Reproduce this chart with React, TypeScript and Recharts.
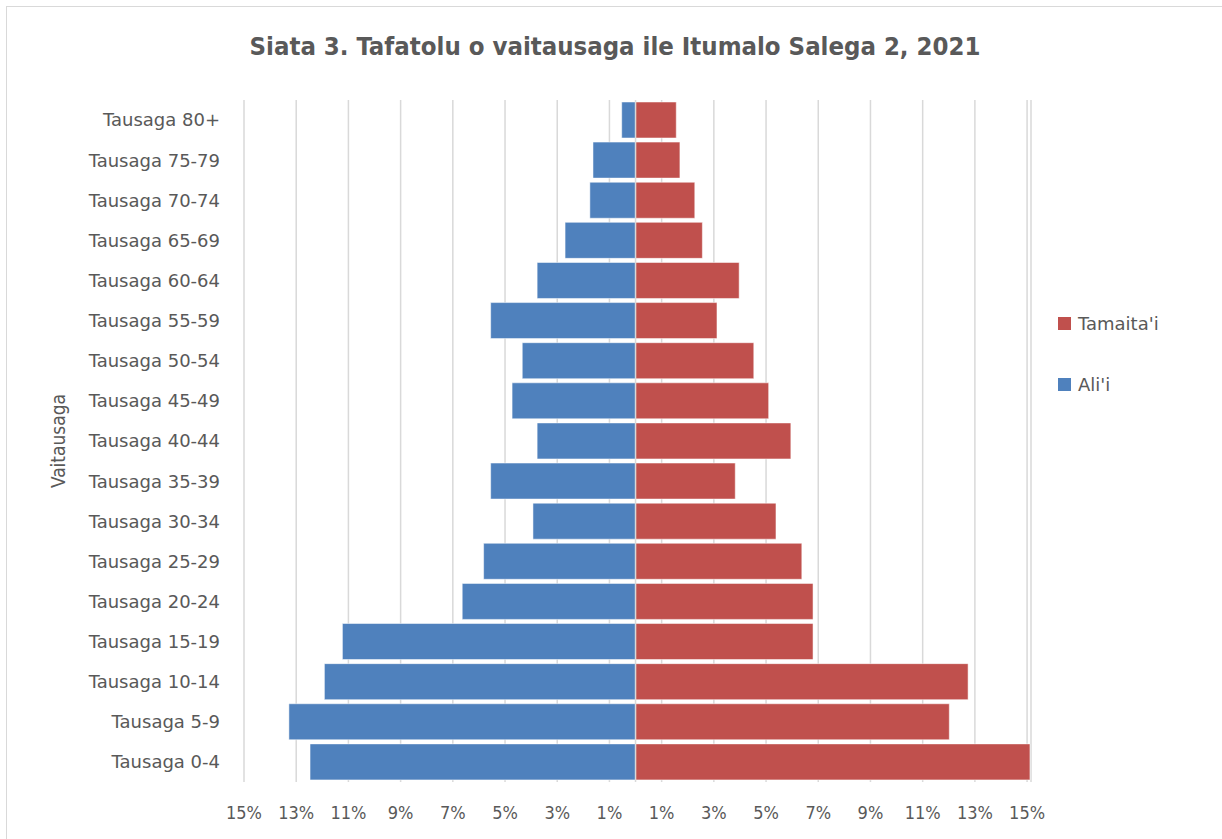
import React from "react";
import {
  BarChart,
  Bar,
  XAxis,
  YAxis,
  CartesianGrid,
  Legend,
  ReferenceLine,
} from "recharts";

// Age groups, top to bottom
const categories = [
  "Tausaga 80+",
  "Tausaga 75-79",
  "Tausaga 70-74",
  "Tausaga 65-69",
  "Tausaga 60-64",
  "Tausaga 55-59",
  "Tausaga 50-54",
  "Tausaga 45-49",
  "Tausaga 40-44",
  "Tausaga 35-39",
  "Tausaga 30-34",
  "Tausaga 25-29",
  "Tausaga 20-24",
  "Tausaga 15-19",
  "Tausaga 10-14",
  "Tausaga 5-9",
  "Tausaga 0-4",
];

// Ali'i (males), percent of population (drawn to the left)
const alii = [
  0.53, 1.63, 1.75, 2.7, 3.77, 5.55, 4.34, 4.73, 3.77, 5.55, 3.93, 5.82, 6.64,
  11.23, 11.92, 13.28, 12.47,
];

// Tamaita'i (females), percent of population (drawn to the right)
const tamaitai = [
  1.56, 1.7, 2.27, 2.56, 3.97, 3.12, 4.53, 5.1, 5.95, 3.82, 5.38, 6.37, 6.8,
  6.8, 12.74, 12.02, 15.11,
];

const xTicks = [-15, -13, -11, -9, -7, -5, -3, -1, 1, 3, 5, 7, 9, 11, 13, 15];

const title = "Siata 3. Tafatolu o vaitausaga ile Itumalo Salega 2, 2021";
const yAxisTitle = "Vaitausaga";
const seriesAlii = "Ali'i";
const seriesTamaitai = "Tamaita'i";

const BLUE = "#4F81BD";
const RED = "#C0504D";
const TEXT = "#595959";

const data = categories.map((c, i) => ({
  category: c,
  alii: -alii[i],
  tamaitai: tamaitai[i],
}));

const WIDE = "'DejaVu Sans', 'Open Sans', sans-serif";
const NARROW = "'DejaVu Sans Condensed', 'Open Sans', sans-serif";

const LegendContent = (props: any) => {
  const items = [...(props.payload || [])].reverse();
  return (
    <div style={{ fontFamily: WIDE, fontSize: 18, color: TEXT }}>
      {items.map((it: any, i: number) => (
        <div
          key={i}
          style={{
            display: "flex",
            alignItems: "center",
            height: 26,
            marginBottom: i === 0 ? 35 : 0,
          }}
        >
          <div
            style={{
              width: 13,
              height: 13,
              background: it.color,
              marginRight: 7,
            }}
          />
          <span>{it.value}</span>
        </div>
      ))}
    </div>
  );
};

export default function App() {
  return (
    <div
      style={{
        position: "absolute",
        left: 0,
        top: 0,
        width: 1222,
        height: 839,
        background: "#fff",
        overflow: "hidden",
      }}
    >
      <div
        style={{
          position: "absolute",
          left: 6,
          top: 6,
          width: 1300,
          height: 900,
          borderTop: "1.5px solid #d9d9d9",
          borderLeft: "1.5px solid #d9d9d9",
        }}
      />
      <div
        style={{
          position: "absolute",
          left: 0,
          width: 1230,
          top: 31,
          textAlign: "center",
          fontFamily: NARROW,
          fontWeight: "bold",
          fontSize: 25.5,
          color: TEXT,
        }}
      >
        {title}
      </div>
      <div style={{ position: "absolute", left: 0, top: 0 }}>
        <BarChart
          width={1222}
          height={839}
          data={data}
          layout="vertical"
          stackOffset="sign"
          barSize={36}
          margin={{ top: 100, right: 41, bottom: 27, left: 14 }}
        >
          <CartesianGrid
            horizontal={false}
            vertical={true}
            stroke="#d9d9d9"
            strokeWidth={1.5}
          />
          <XAxis
            type="number"
            domain={[-15, 15.15]}
            ticks={xTicks}
            allowDataOverflow
            axisLine={false}
            tickLine={false}
            tickMargin={18}
            tickFormatter={(v: number) => `${Math.abs(v)}%`}
            tick={{ fill: TEXT, fontSize: 18, fontFamily: NARROW }}
            interval={0}
          />
          <YAxis
            type="category"
            dataKey="category"
            width={230}
            axisLine={false}
            tickLine={false}
            tickMargin={18}
            interval={0}
            tick={{ fill: TEXT, fontSize: 18, fontFamily: WIDE }}
            label={{
              value: yAxisTitle,
              angle: -90,
              position: "insideLeft",
              offset: 44,
              style: {
                fill: TEXT,
                fontSize: 19,
                fontFamily: NARROW,
                textAnchor: "middle",
              },
            }}
          />
          <ReferenceLine x={0} stroke="#d9d9d9" strokeWidth={1.5} />
          <Bar
            dataKey="alii"
            name={seriesAlii}
            stackId="a"
            fill={BLUE}
            stroke="#ffffff"
            strokeOpacity={0.5}
            strokeWidth={1}
            isAnimationActive={false}
          />
          <Bar
            dataKey="tamaitai"
            name={seriesTamaitai}
            stackId="a"
            fill={RED}
            stroke="#ffffff"
            strokeOpacity={0.5}
            strokeWidth={1}
            isAnimationActive={false}
          />
          <Legend
            layout="vertical"
            align="right"
            verticalAlign="middle"
            content={<LegendContent />}
            wrapperStyle={{
              position: "absolute",
              left: 1058,
              top: 310,
              width: 150,
            }}
          />
        </BarChart>
      </div>
    </div>
  );
}
